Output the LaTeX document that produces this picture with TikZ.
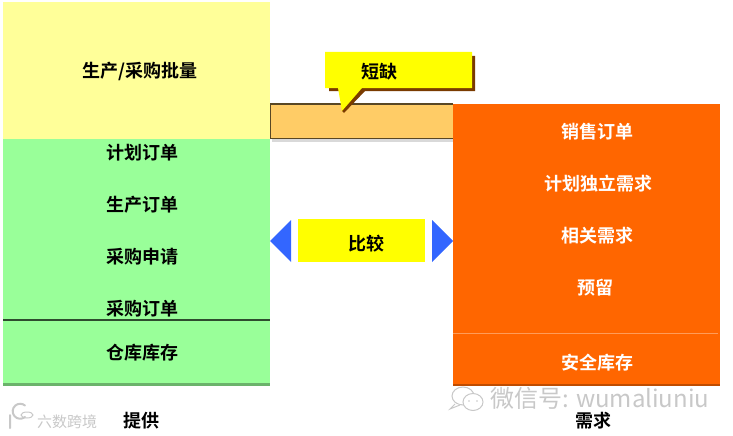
\documentclass[tikz,border=0pt]{standalone}
\usepackage{fontspec}
\setmainfont{Noto Sans CJK SC}[BoldFont={* Bold}]
\usepackage{tikz}
\definecolor{palebar}{HTML}{FFFF99}
\definecolor{greenbar}{HTML}{99FF99}
\definecolor{orangebar}{HTML}{FF6600}
\definecolor{gapbar}{HTML}{FFCC66}
\definecolor{tipblue}{HTML}{3366FF}
\definecolor{shadowbrown}{HTML}{7A3B00}
\definecolor{markgrey}{HTML}{C8C8C8}
\definecolor{callyellow}{HTML}{FFFF00}
\tikzset{
  lbl/.style={font=\fontsize{18}{18}\selectfont\bfseries, inner sep=0pt},
  lblw/.style={lbl, text=white},
  wmark/.style={text=markgrey, inner sep=0pt},
  bubble/.style={draw=markgrey, line width=1pt, fill=white}
}
\begin{document}
\begin{tikzpicture}[x=1pt,y=-1pt]
  \useasboundingbox (0,0) rectangle (733,436);
  % left column
  \fill[palebar] (3,2) rectangle (270,139);
  \fill[greenbar] (3,139) rectangle (270,385);
  \fill[black!30!greenbar] (3,383) rectangle (270,385.5);
  \draw[black!70!greenbar, line width=1.2pt] (3,320) -- (270,320);
  \node[lbl] (lot) at (140,71) {生产/采购批量};
  \node[lbl] (plan) at (142.5,153) {计划订单};
  \node[lbl] (prod) at (142.5,205) {生产订单};
  \node[lbl] (req) at (142.5,257) {采购申请};
  \node[lbl] (po) at (142.5,309) {采购订单};
  \node[lbl] (stock) at (142.5,353) {仓库库存};
  \node[lbl] (supply) at (141,421) {提供};
  % gap bar
  \fill[black!15] (272,139) rectangle (453,142);
  \filldraw[fill=gapbar, draw=black!65!gapbar, line width=1.1pt] (453,104) -- (270.5,104) -- (270.5,138.5) -- (453,138.5);
  % right column
  \fill[orangebar] (453,104) rectangle (720,385);
  \fill[black!25!orangebar] (453,383.5) rectangle (720,385.5);
  \draw[orangebar!65!white, line width=.7pt] (453,333) -- (718,333);
  \node[lblw] (sales) at (597,132) {销售订单};
  \node[lblw] (pir) at (598,184) {计划独立需求};
  \node[lblw] (dep) at (597,236) {相关需求};
  \node[lblw] (res) at (595,288) {预留};
  \node[lblw] (safe) at (597,362.5) {安全库存};
  \node[lbl] (demand) at (593,421) {需求};
  % callout
  \fill[shadowbrown] (329,56) -- (475,56) -- (475,91) -- (365,91) -- (344,113) -- (342,111) -- (342,91) -- (329,91) -- cycle;
  \fill[callyellow] (325,52) -- (472,52) -- (472,88) -- (362,88) -- (342,111) -- (338,88) -- (325,88) -- cycle;
  \node[lbl] (short) at (379,72) {短缺};
  % compare
  \fill[callyellow] (298,219) rectangle (425,262);
  \fill[tipblue] (291,220) -- (291,262) -- (270,241) -- cycle;
  \fill[tipblue] (432,220) -- (432,262) -- (453,241) -- cycle;
  \node[lbl] (cmp) at (366,244) {比较};
  % watermarks
  \draw[markgrey, line width=2pt, line cap=round] (10,415) -- (10,428) (25,417) arc (50:310:7.5);
  \draw[markgrey, line width=1pt] (27,415) ellipse (6 and 3);
  \node[wmark, font=\fontsize{15}{15}\selectfont] (logo) at (67,422) {六数跨境};
  \draw[bubble] (463,396) ellipse (11 and 9);
  \fill[white, draw=markgrey, line width=1pt] (455,404) -- (450,409) -- (460,405);
  \draw[bubble] (473,402) ellipse (10 and 8.5);
  \fill[markgrey] (469,401) circle (.9) (477,401) circle (.9);
  \node[wmark, anchor=west, font=\fontsize{24}{24}\selectfont] (wx) at (490,398) {微信号: wumaliuniu};
\end{tikzpicture}
\end{document}
